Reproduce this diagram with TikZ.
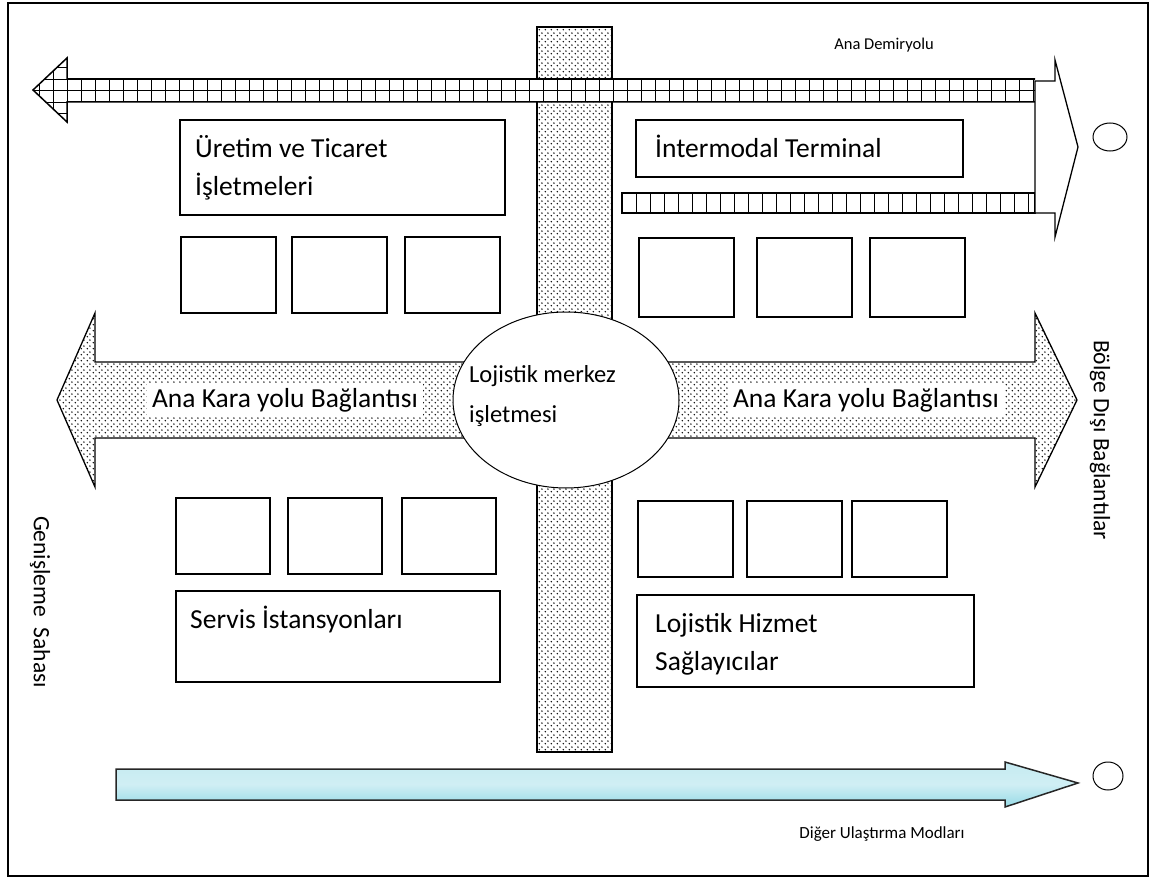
\documentclass[tikz,border=0pt]{standalone}
\usepackage{fontspec}
\setmainfont{Carlito}
\usetikzlibrary{patterns.meta}

\definecolor{suyolu}{RGB}{150,218,230}

\tikzdeclarepattern{
    name=noktali,
    type=uncolored,
    bounding box={(0pt,0pt) and (5.6pt,5.6pt)},
    tile size={(5.6pt,5.6pt)},
    code={
        \fill (1.4pt,1.4pt) circle (0.85pt);
        \fill (4.2pt,4.2pt) circle (0.85pt);
    }
}

\tikzset{
    kutu/.style={draw=black, line width=1.3pt, fill=white},
    yol/.style={draw=black, line width=1.3pt, pattern=noktali, pattern color=black},
    buyukyazi/.style={font=\fontsize{27.5}{33}\selectfont, inner sep=0pt},
    kucukyazi/.style={font=\fontsize{16.5}{20}\selectfont, inner sep=0pt},
    yanyazi/.style={font=\fontsize{23.5}{28}\selectfont, inner sep=0pt, rotate=-90},
    demir/.style={line width=0.9pt},
}

\begin{document}
\begin{tikzpicture}[x=1pt, y=-1pt]
        \useasboundingbox (0,0) rectangle (1152,880);
        \draw[line width=1.3pt] (8,3) rectangle (1148,876);

        % orta yol
        \draw[yol] (537,27) rectangle (612,752);

        % ana demiryolu
        \begin{scope}
            \clip (1035,79) -- (67,79) -- (67,58) -- (33,90) -- (67,122) -- (67,102) -- (1035,102) -- cycle;
            \fill[white] (30,50) rectangle (1035,130);
            \foreach \x in {39,53,...,1035} {
                \draw[demir] (\x,50) -- (\x,130);
            }
            \foreach \y in {56,67.5,79,90.5,102,113.5,125} {
                \draw[demir] (30,\y) -- (1035,\y);
            }
        \end{scope}
        \draw[line width=1.5pt] (1035,79) -- (67,79) -- (67,58) -- (33,90) -- (67,122) -- (67,102) -- (1035,102);

        % terminal hatti
        \draw[demir] (622,193) rectangle (1035,213);
        \foreach \x in {636,650,...,1035} {
            \draw[demir] (\x,193) -- (\x,213);
        }
        \draw[line width=1.5pt] (622,193) rectangle (1035,213);

        \draw[kutu] (1035,81) -- (1055,81) -- (1055,60) -- (1078,147) -- (1055,237) -- (1055,213) -- (1035,213) -- cycle;
        \draw[line width=1pt] (1110,137) ellipse (17 and 14);
        \node[kucukyazi] (demiryolu) at (884,45) {Ana Demiryolu};

        % kara yolu
        \draw[yol] (500,362) -- (95,362) -- (95,313) -- (57,400) -- (95,487) -- (95,438) -- (500,438);
        \draw[yol] (630,362) -- (1035,362) -- (1035,313) -- (1077,400) -- (1035,487) -- (1035,438) -- (630,438);
        \node[buyukyazi, fill=white, inner sep=5pt] (karasol) at (285,400) {Ana Kara yolu Bağlantısı};
        \node[buyukyazi, fill=white, inner sep=5pt] (karasag) at (866,400) {Ana Kara yolu Bağlantısı};

        \draw[kutu, line width=1pt] (566,400) ellipse (113 and 88);
        \node[font=\fontsize{24.5}{40}\selectfont, inner sep=0pt, align=left, anchor=west] (merkez) at (469,396) {Lojistik merkez\\işletmesi};

        % isletme kutulari
        \draw[kutu] (180,120) rectangle (505,215);
        \node[buyukyazi, anchor=base west] (uretim) at (195,158) {Üretim ve Ticaret};
        \node[buyukyazi, anchor=base west] (isletme) at (195,196) {İşletmeleri};

        \draw[kutu] (636,120) rectangle (963,177);
        \node[buyukyazi, anchor=base west] (terminal) at (655,158) {İntermodal Terminal};

        \draw[kutu] (176,591) rectangle (500,682);
        \node[buyukyazi, anchor=base west] (servis) at (190,628) {Servis İstansyonları};

        \draw[kutu] (637,595) rectangle (974,687);
        \node[buyukyazi, anchor=base west] (hizmet) at (655,632) {Lojistik Hizmet};
        \node[buyukyazi, anchor=base west] (saglayici) at (655,670) {Sağlayıcılar};

        \foreach \x in {181,292,405} {
            \draw[kutu] (\x,237) rectangle ++(95,76);
        }
        \foreach \x in {639,757,870} {
            \draw[kutu] (\x,238) rectangle ++(95,79);
        }
        \foreach \x in {176,288,402} {
            \draw[kutu] (\x,498) rectangle ++(94,76);
        }
        \foreach \x in {638,747,852} {
            \draw[kutu] (\x,501) rectangle ++(95,76);
        }

        % diger modlar
        \draw[line width=1.5pt, draw=black!85, top color=suyolu!55!white, bottom color=suyolu, middle color=suyolu!45!white]
            (116,769) -- (1005,769) -- (1005,762) -- (1078,783) -- (1005,807) -- (1005,800) -- (116,800) -- cycle;
        \draw[line width=1pt] (1108,776) ellipse (15 and 14);
        \node[font=\fontsize{17}{21}\selectfont, inner sep=0pt] (modlar) at (882,834) {Diğer Ulaştırma Modları};

        \node[yanyazi] (genisleme) at (40,602) {Genişleme\ \ Sahası};
        \node[yanyazi] (bolge) at (1100,440) {Bölge Dışı Bağlantılar};
\end{tikzpicture}
\end{document}
